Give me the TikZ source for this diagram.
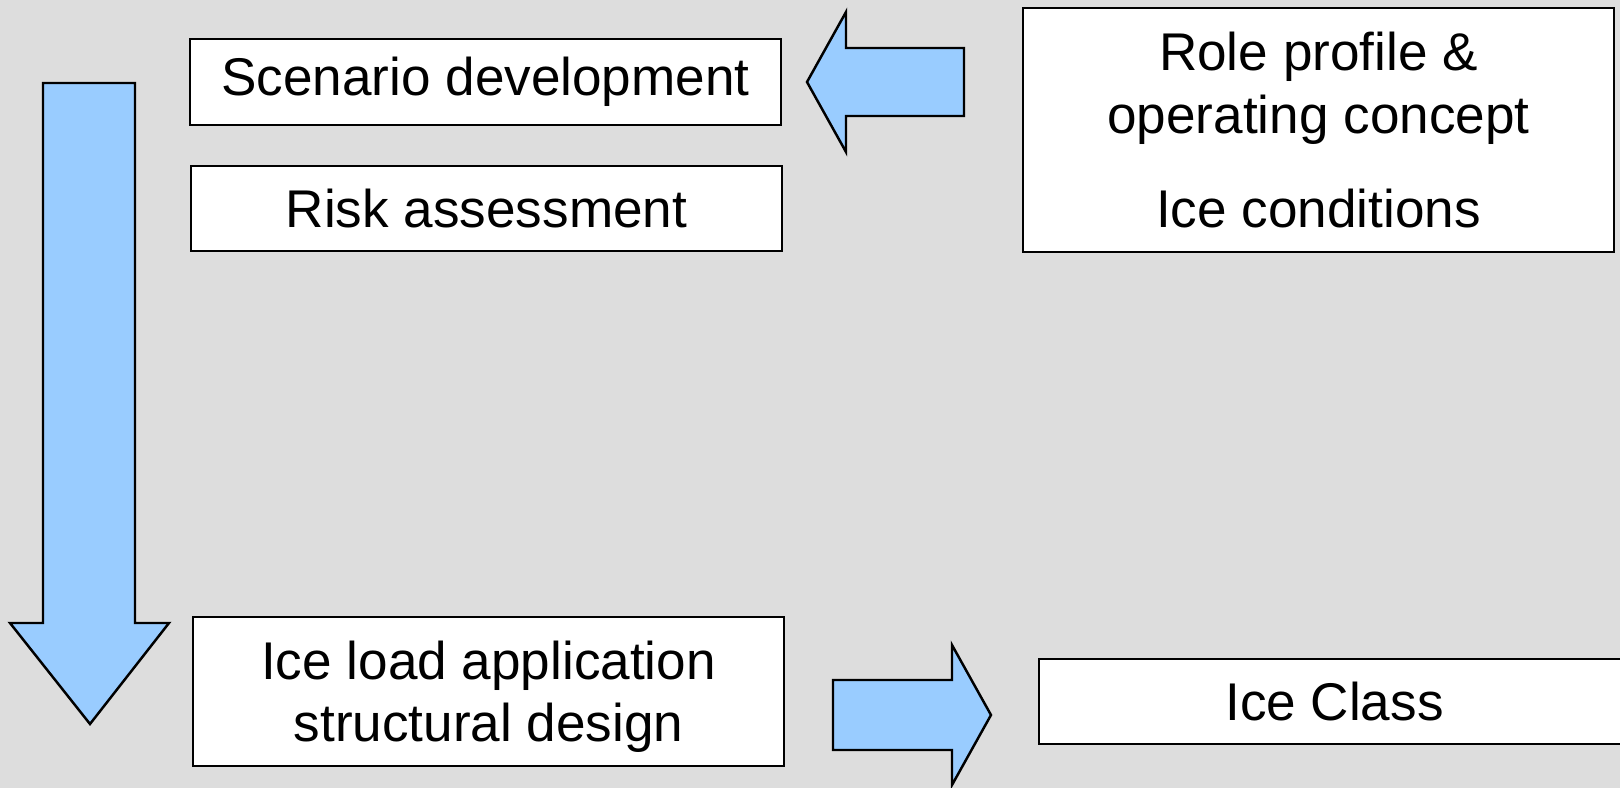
\documentclass[tikz,border=0pt]{standalone}
\usepackage{fontspec}
\setmainfont{Liberation Sans}
\definecolor{bggray}{HTML}{DDDDDD}
\definecolor{arrowblue}{HTML}{99CCFF}

\begin{document}
\begin{tikzpicture}[x=0.01cm,y=-0.01cm,
    box/.style={draw, line width=0.7pt, fill=white, minimum width=5.91cm,
      align=center, inner sep=0pt, font=\fontsize{15.1}{17.7}\selectfont},
    blockarrow/.style={draw, line width=0.7pt, fill=arrowblue, line join=miter}]
  \useasboundingbox[fill=bggray] (0,0) rectangle (1620,788);
  \node[box, minimum height=0.86cm] (scen) at (485.5,82) {Scenario development};
  \node[box, minimum height=0.85cm] (risk) at (486.5,208.5) {Risk assessment};
  \node[box, minimum height=2.44cm] (role) at (1318.5,130)
    {Role profile \&\\operating concept\\[9pt]Ice conditions};
  \node[box, minimum height=1.49cm, text depth=0pt] (load) at (488.5,691.5)
    {Ice load application\\structural design};
  \node[box, minimum height=0.85cm] (cls) at (1334.5,701.5) {Ice Class};
  \draw[blockarrow] (807,82) -- (846,12) -- (846,48) -- (964,48) -- (964,116)
    -- (846,116) -- (846,152) -- cycle;
  \draw[blockarrow] (43,83) -- (135,83) -- (135,623) -- (169,623) -- (90,724)
    -- (10,623) -- (43,623) -- cycle;
  \draw[blockarrow] (833,680) -- (952,680) -- (952,645) -- (991,715) -- (952,785)
    -- (952,750) -- (833,750) -- cycle;
\end{tikzpicture}
\end{document}
